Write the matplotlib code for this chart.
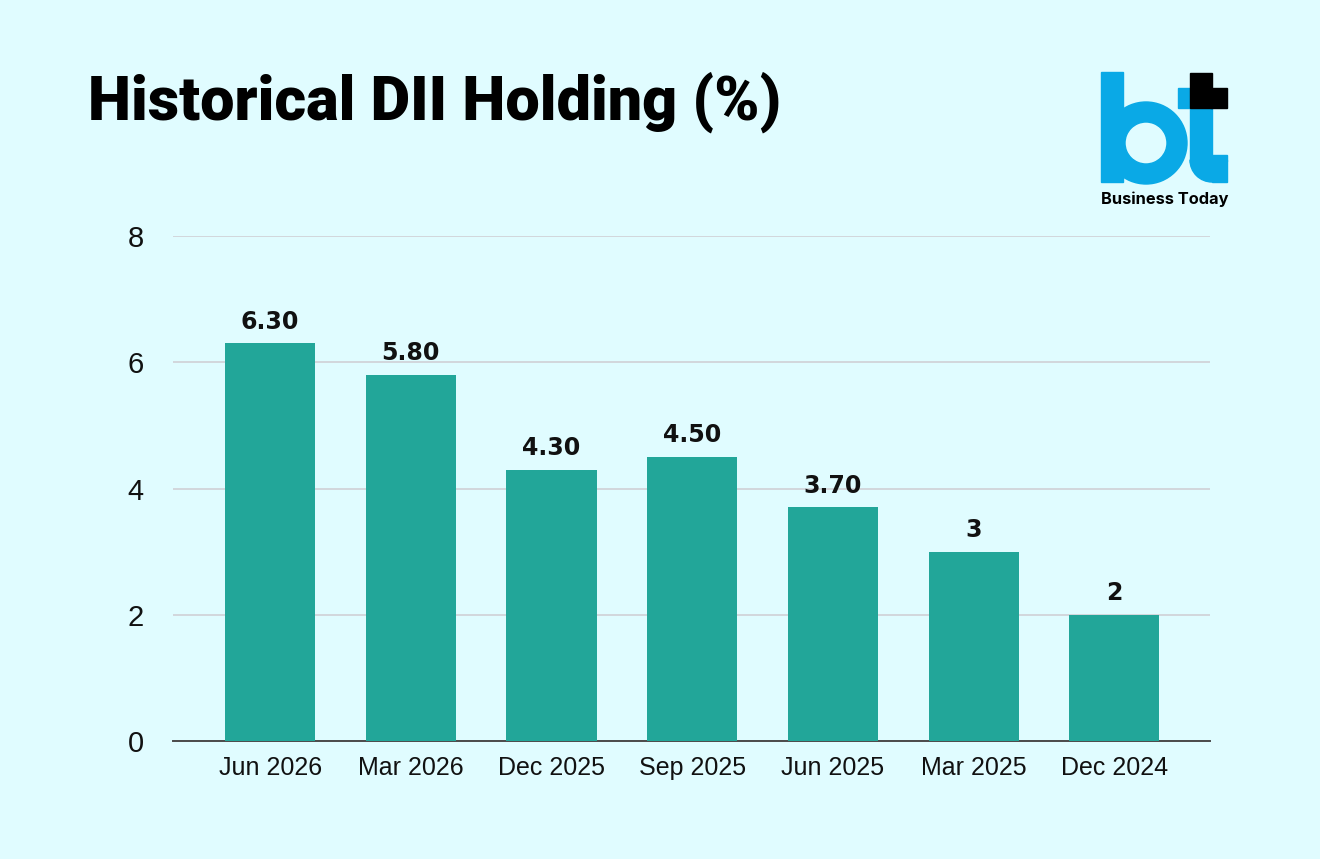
import matplotlib
matplotlib.use("Agg")
import matplotlib.pyplot as plt
from matplotlib.patches import Rectangle, Wedge

# data
quarters = ["Jun 2026", "Mar 2026", "Dec 2025", "Sep 2025", "Jun 2025", "Mar 2025", "Dec 2024"]
dii_holding = [6.30, 5.80, 4.30, 4.50, 3.70, 3.0, 2.0]
value_labels = ["6.30", "5.80", "4.30", "4.50", "3.70", "3", "2"]
y_ticks = [0, 2, 4, 6, 8]

bg = "#E0FCFF"
bar_color = "#22A699"
logo_blue = "#0AA9E6"

fig = plt.figure(figsize=(13.2, 8.59), dpi=100, facecolor=bg)
ax = fig.add_axes([173 / 1320, 1 - 741 / 859, (1210 - 173) / 1320, (741 - 236) / 859])
ax.set_facecolor(bg)

x = list(range(len(quarters)))
ax.bar(x, dii_holding, width=0.64, color=bar_color, zorder=3)
for xi, v, lab in zip(x, dii_holding, value_labels):
    ax.annotate(lab, (xi, v), xytext=(0, 7), textcoords="offset points",
                ha="center", va="bottom", fontsize=17, fontweight="bold",
                family="DejaVu Sans", color="#111111")

ax.set_xlim(-0.69, 6.68)
ax.set_ylim(0, 8)
ax.set_yticks(y_ticks)
ax.set_xticks(x)
ax.set_xticklabels(quarters)
ax.grid(axis="y", color="#D2D6DC", linewidth=1.4, zorder=0)
for s in ["top", "right", "left"]:
    ax.spines[s].set_visible(False)
ax.spines["bottom"].set_color("#4A4A4A")
ax.spines["bottom"].set_linewidth(1.4)
ax.tick_params(axis="y", length=0, pad=21, labelsize=21, labelcolor="#111111")
ax.tick_params(axis="x", length=0, pad=11, labelsize=18, labelcolor="#111111")
for lab in ax.get_yticklabels() + ax.get_xticklabels():
    lab.set_family("Liberation Sans")

# title
fig.text(88 / 1320, 1 - 120 / 859, "Historical DII Holding (%)", fontsize=44,
         fontweight="black", family="Roboto", color="#000000", ha="left", va="baseline")

# logo, drawn in pixel coords on an overlay
ov = fig.add_axes([0, 0, 1, 1], facecolor="none")
ov.set_xlim(0, 1320)
ov.set_ylim(859, 0)
ov.axis("off")
ov.add_patch(Rectangle((1101, 72), 22, 110, color=logo_blue))
ov.add_patch(Wedge((1146, 143), 41, 0, 360, width=20, color=logo_blue))
ov.add_patch(Rectangle((1178, 88), 12, 20, color=logo_blue))
ov.add_patch(Rectangle((1190, 108), 22, 54, color=logo_blue))
ov.add_patch(Wedge((1212, 160), 22, 90, 180, color=logo_blue))
ov.add_patch(Rectangle((1212, 160), 15, 22, color=logo_blue))
ov.add_patch(Rectangle((1212, 155), 15, 6, color=logo_blue))
ov.add_patch(Rectangle((1190, 73), 22, 35, color="#000000"))
ov.add_patch(Rectangle((1211, 88), 16, 20, color="#000000"))
ov.text(1101, 204, "Business Today", fontsize=11.8, fontweight="bold", family="Inter",
        color="#000000", ha="left", va="baseline")

fig.savefig("out.png", dpi=100, facecolor=bg)
